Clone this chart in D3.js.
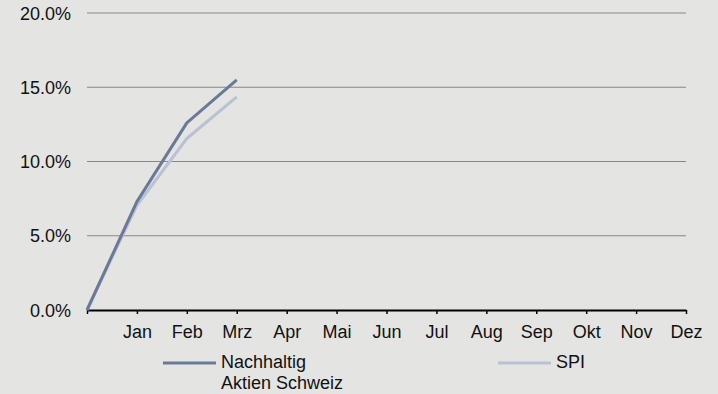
<!DOCTYPE html>
<html>
<head>
<meta charset="utf-8">
<script src="https://cdn.jsdelivr.net/npm/d3@7/dist/d3.min.js"></script>
<style>
  html, body { margin: 0; padding: 0; background: #e4e4e3; }
  svg { display: block; font-family: "Liberation Sans", Arial, Helvetica, sans-serif; }
</style>
</head>
<body>
<svg id="chart" width="718" height="394"></svg>
<script>
// Performance since year start (cumulative, %)
const months = ["", "Jan", "Feb", "Mrz", "Apr", "Mai", "Jun", "Jul", "Aug", "Sep", "Okt", "Nov", "Dez"];
const yTicks = [0, 5, 10, 15, 20];
const fundValues = [0, 7.3, 12.6, 15.5];
const spiValues = [0, 7.05, 11.55, 14.35];
const seriesNames = ["Nachhaltig\nAktien Schweiz", "SPI"];
const seriesColors = ["#6b7999", "#b9c1d3"];

const svg = d3.select("#chart");
const margin = { left: 87, right: 32, top: 13, bottom: 84 };
const W = 718, H = 394;
const FS = 18;

const x = d3.scalePoint().domain(d3.range(months.length)).range([margin.left, W - margin.right]);
const y = d3.scaleLinear().domain([0, 20]).range([H - margin.bottom, margin.top]);

// horizontal grid lines
svg.append("g")
  .selectAll("line")
  .data(yTicks.filter(d => d > 0))
  .join("line")
  .attr("x1", margin.left).attr("x2", W - margin.right)
  .attr("y1", d => y(d)).attr("y2", d => y(d))
  .attr("stroke", "#878787").attr("stroke-width", 1.2);

// y axis labels
svg.append("g")
  .selectAll("text")
  .data(yTicks)
  .join("text")
  .attr("x", 71).attr("y", d => y(d) + 6.5)
  .attr("text-anchor", "end")
  .attr("font-size", FS).attr("fill", "#111")
  .text(d => d.toFixed(1) + "%");

// x axis
const xAxis = d3.axisBottom(x).tickSize(4).tickSizeOuter(0).tickFormat(i => months[i]);
const gx = svg.append("g").attr("transform", `translate(0,${y(0)})`).call(xAxis);
gx.select(".domain").attr("stroke", "#000").attr("stroke-width", 2);
gx.selectAll(".tick line").attr("stroke", "#000").attr("stroke-width", 1.5);
gx.selectAll(".tick text")
  .attr("font-size", FS).attr("fill", "#111")
  .attr("font-family", "Liberation Sans, Arial, sans-serif")
  .attr("dy", 0).attr("y", 28);

// series lines
const line = d3.line().x((d, i) => x(i)).y(d => y(d));
[[spiValues, 1], [fundValues, 0]].forEach(([vals, idx]) => {
  svg.append("path")
    .datum(vals)
    .attr("d", line)
    .attr("fill", "none")
    .attr("stroke", seriesColors[idx])
    .attr("stroke-width", 3)
    .attr("stroke-linejoin", "round");
});

// legend
const legendX = [163, 498];
const legendY = 363;
seriesNames.forEach((name, i) => {
  const g = svg.append("g");
  g.append("line")
    .attr("x1", legendX[i]).attr("x2", legendX[i] + 53)
    .attr("y1", legendY).attr("y2", legendY)
    .attr("stroke", seriesColors[i]).attr("stroke-width", 3);
  const t = g.append("text")
    .attr("x", legendX[i] + 58).attr("y", legendY + 5)
    .attr("font-size", FS).attr("fill", "#111");
  name.split("\n").forEach((part, j) => {
    t.append("tspan").attr("x", legendX[i] + 58).attr("dy", j === 0 ? 0 : 21).text(part);
  });
});
</script>
</body>
</html>
